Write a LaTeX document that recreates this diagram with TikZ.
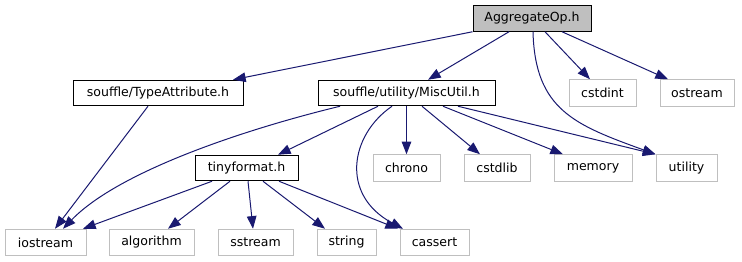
\documentclass[tikz,border=0pt]{standalone}
\usepackage{fontspec}
\setmainfont{DejaVu Sans}
\usetikzlibrary{arrows.meta,positioning}

\definecolor{edgeblue}{RGB}{25,25,112}
\definecolor{sysgray}{RGB}{191,191,191}
\newcommand{\pxu}{0.75pt}

\begin{document}
\begin{tikzpicture}[
    x=0.75pt, y=-0.75pt,
    file/.style={draw=black, line width=0.75pt, fill=white, inner sep=0pt,
                 minimum height={25.5*\pxu}, font=\fontsize{9.4}{11}\selectfont},
    mainfile/.style={file, fill=sysgray},
    sysfile/.style={file, draw=sysgray, minimum height={26.5*\pxu}},
    dep/.style={draw=edgeblue, line width=0.75pt,
                -{Triangle[length=9.5pt,width=7.2pt]}},
]
\useasboundingbox (0,0) rectangle (742,261);

% --- Row 0: the header itself ---
\node[mainfile, minimum width={118*\pxu}] (agg) at (532,18.5) {AggregateOp.h};

% --- Row 1 ---
\node[file, minimum width={170*\pxu}] (typeattr) at (158,93) {souffle/TypeAttribute.h};
\node[file, minimum width={177*\pxu}] (miscutil) at (406.5,93) {souffle/utility/MiscUtil.h};
\node[sysfile, minimum width={67*\pxu}] (cstdint) at (602.5,93) {cstdint};
\node[sysfile, minimum width={74*\pxu}] (ostream) at (697,93) {ostream};

% --- Row 2 ---
\node[file, minimum width={103*\pxu}] (tinyfmt) at (246.5,168) {tinyformat.h};
\node[sysfile, minimum width={67*\pxu}] (chrono) at (406.5,168) {chrono};
\node[sysfile, minimum width={66*\pxu}] (cstdlib) at (497,168) {cstdlib};
\node[sysfile, minimum width={78*\pxu}] (memory) at (593,168) {memory};
\node[sysfile, minimum width={61*\pxu}] (utility) at (686.5,168) {utility};

% --- Row 3 ---
\node[sysfile, minimum width={81*\pxu}] (iostream) at (45.5,242.5) {iostream};
\node[sysfile, minimum width={85*\pxu}] (algorithm) at (151.5,242.5) {algorithm};
\node[sysfile, minimum width={75*\pxu}] (sstream) at (255.5,242.5) {sstream};
\node[sysfile, minimum width={59*\pxu}] (string) at (346.5,242.5) {string};
\node[sysfile, minimum width={69*\pxu}] (cassert) at (434.5,242.5) {cassert};

% --- Includes of AggregateOp.h ---
\draw[dep] (agg.south west) -- ([xshift={75*\pxu}]typeattr.north);
\draw[dep] ([xshift={-23*\pxu}]agg.south) -- ([xshift={21.5*\pxu}]miscutil.north);
\draw[dep] ([xshift={1*\pxu}]agg.south) .. controls (535,110) and (575,125) .. (utility.north west);
\draw[dep] ([xshift={13*\pxu}]agg.south) -- ([xshift={-12.5*\pxu}]cstdint.north);
\draw[dep] ([xshift={30*\pxu}]agg.south) -- ([xshift={-29*\pxu}]ostream.north);

% --- Includes of TypeAttribute.h ---
\draw[dep] ([xshift={-10*\pxu}]typeattr.south) -- ([xshift={9.5*\pxu}]iostream.north);

% --- Includes of MiscUtil.h ---
\draw[dep] ([xshift={-66.5*\pxu}]miscutil.south) .. controls (250,128) and (120,170) .. ([xshift={17.5*\pxu}]iostream.north);
\draw[dep] ([xshift={-28.5*\pxu}]miscutil.south) -- ([xshift={31.5*\pxu}]tinyfmt.north);
\draw[dep] ([xshift={-14.5*\pxu}]miscutil.south) .. controls (350,135) and (340,195) .. ([xshift={-31.5*\pxu}]cassert.north);
\draw[dep] (miscutil.south) -- (chrono.north);
\draw[dep] ([xshift={15.5*\pxu}]miscutil.south) -- ([xshift={-17*\pxu}]cstdlib.north);
\draw[dep] ([xshift={36.5*\pxu}]miscutil.south) -- ([xshift={-30*\pxu}]memory.north);
\draw[dep] ([xshift={51.5*\pxu}]miscutil.south) -- (utility.north west);

% --- Includes of tinyformat.h ---
\draw[dep] ([xshift={-34.5*\pxu}]tinyfmt.south) -- ([xshift={37.5*\pxu}]iostream.north);
\draw[dep] ([xshift={-16.5*\pxu}]tinyfmt.south) -- ([xshift={16.5*\pxu}]algorithm.north);
\draw[dep] ([xshift={1.5*\pxu}]tinyfmt.south) -- ([xshift={-2.5*\pxu}]sstream.north);
\draw[dep] ([xshift={16.5*\pxu}]tinyfmt.south) -- ([xshift={-21.5*\pxu}]string.north);
\draw[dep] ([xshift={32.5*\pxu}]tinyfmt.south) -- ([xshift={-36.5*\pxu}]cassert.north);

\end{tikzpicture}
\end{document}
